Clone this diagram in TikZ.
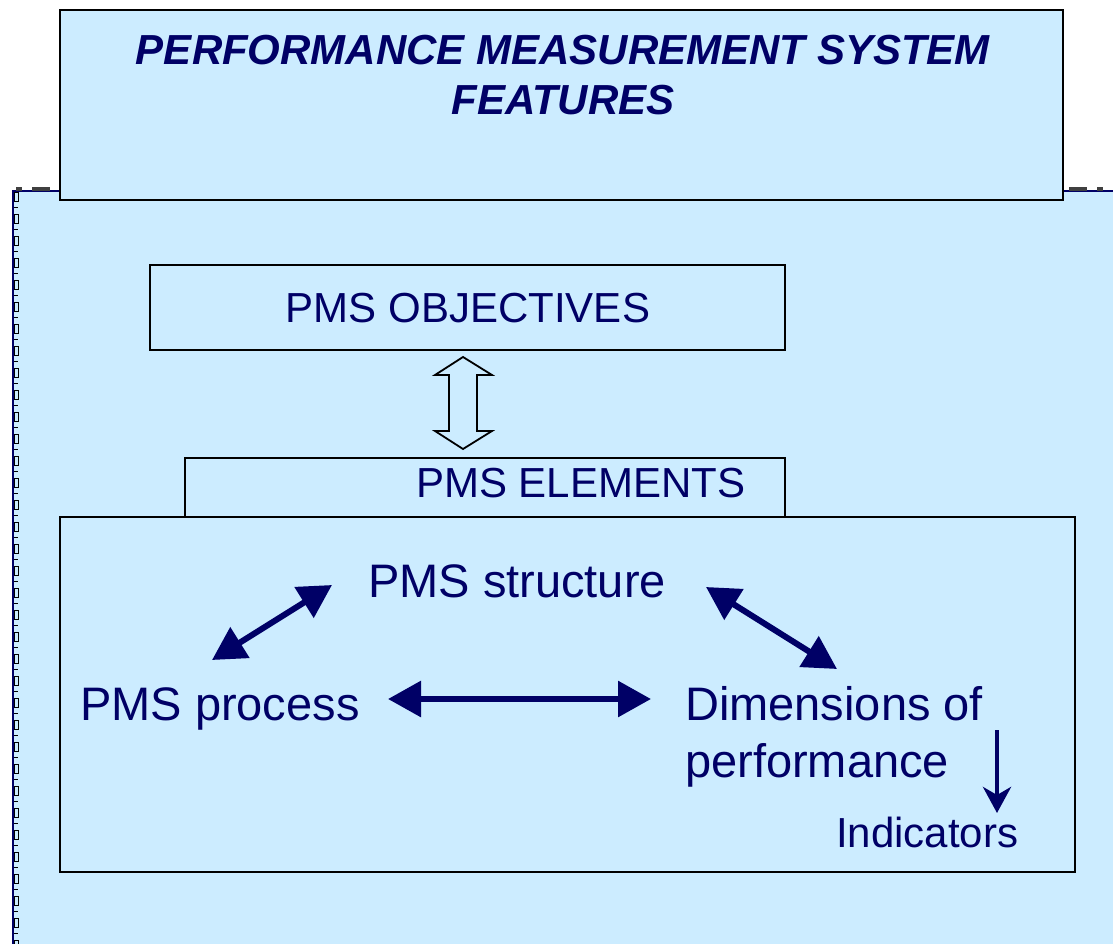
\documentclass[tikz,border=0pt]{standalone}
\usepackage{fontspec}
\setmainfont{Liberation Sans}
\usetikzlibrary{arrows.meta}

\definecolor{paleblue}{HTML}{CCECFF}
\definecolor{navy}{HTML}{000066}

\tikzset{
  panel/.style={draw=black, fill=paleblue, line width=1.6pt},
  txt/.style={text=navy, inner sep=0pt, anchor=base},
  link/.style={navy, line width=6pt, {Triangle[length=33pt,width=35pt]}-{Triangle[length=33pt,width=35pt]}},
}

\newcommand{\bigsize}{\fontsize{47}{57}\selectfont}
\newcommand{\midsize}{\fontsize{42}{50}\selectfont}

\begin{document}
\begin{tikzpicture}[x=1pt,y=-1pt]
\useasboundingbox (0,0) rectangle (1113,944);

% slide background with its edge
\fill[paleblue] (13,191) rectangle (1113,944);
\draw[navy, line width=1.5pt] (13,944) -- (13,191) -- (1113,191);
\foreach \y in {192,214,...,944} {
  \draw[black, line width=0.8pt, fill=paleblue] (14,\y) rectangle (18,\y+9);
  \draw[black, line width=0.8pt] (14,\y+15) -- (18,\y+15);
}
\fill[black!75] (16,187) rectangle (22,191);
\fill[black!75] (32,187) rectangle (50,191);
\fill[black!75] (1069,187) rectangle (1087,191);
\fill[black!75] (1097,187) rectangle (1103,191);

% heading
\draw[panel] (60,10) rectangle (1063,200);
\node (title) [text=navy, align=center, font=\midsize\bfseries\itshape] at (563,75)
  {PERFORMANCE MEASUREMENT SYSTEM\\FEATURES};

% objectives and elements
\draw[panel] (150,265) rectangle (785,350);
\node (objectives) [txt, font=\midsize] at (468,322) {PMS OBJECTIVES};

\draw[panel, line width=1.8pt] (463,357) -- (492,375) -- (477,375) -- (477,431)
  -- (492,431) -- (463,449) -- (435,431) -- (449,431) -- (449,375) -- (435,375) -- cycle;

\draw[panel] (185,458) rectangle (785,517);
\node (elements) [txt, font=\midsize, anchor=base west] at (416,497) {PMS ELEMENTS};

\draw[panel] (60,517) rectangle (1075,872);
\node (structure) [txt, font=\bigsize, anchor=base west] at (368,597) {PMS structure};
\node (process) [txt, font=\bigsize, anchor=base west] at (80,720) {PMS process};
\node (dimensions) [txt, font=\bigsize, anchor=base west, align=left] at (685,777)
  {Dimensions of\\performance};
\node (indicators) [txt, font=\midsize, anchor=base west] at (836,847) {Indicators};

% links between the elements
\coordinate (p1) at (212,660);
\coordinate (s1) at (332,585);
\coordinate (s2) at (706,587);
\coordinate (d1) at (837,669);
\coordinate (p2) at (388,699);
\coordinate (d2) at (651,699);
\coordinate (d3) at (997,730);
\coordinate (i1) at (997,813);

\draw[link] (p1) -- (s1);
\draw[link] (s2) -- (d1);
\draw[link] (p2) -- (d2);
\draw[navy, line width=4.5pt, -{Stealth[length=26pt,width=28pt,inset=8pt]}] (d3) -- (i1);
\end{tikzpicture}
\end{document}
